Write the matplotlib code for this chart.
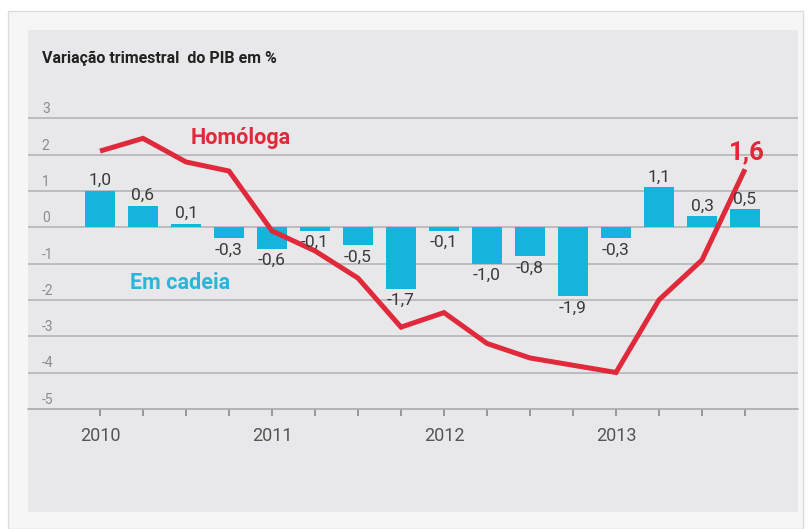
import matplotlib
matplotlib.use("Agg")
import matplotlib.pyplot as plt
from matplotlib.patches import Rectangle

# ---- data ----
quarters = list(range(16))
year_labels = {0: "2010", 4: "2011", 8: "2012", 12: "2013"}
em_cadeia = [1.0, 0.6, 0.1, -0.3, -0.6, -0.1, -0.5, -1.7,
             -0.1, -1.0, -0.8, -1.9, -0.3, 1.1, 0.3, 0.5]
homologa = [2.1, 2.45, 1.8, 1.55, -0.1, -0.65, -1.4, -2.75,
            -2.35, -3.2, -3.6, -3.8, -4.0, -2.0, -0.9, 1.6]
y_ticks = [3, 2, 1, 0, -1, -2, -3, -4, -5]
title = "Variação trimestral  do PIB em %"

# ---- style ----
W, H = 808, 529
CYAN = "#14b4dc"
RED = "#e0293a"
PANEL = "#e8e8ea"
GRID = "#b0b0b2"
FONT = ["Roboto", "DejaVu Sans"]
plt.rcParams["font.family"] = FONT

fig = plt.figure(figsize=(W / 100, H / 100), dpi=100)
fig.patch.set_facecolor("white")
# outer light frame
frame = Rectangle((8 / W, 0), (803 - 8) / W, (H - 11) / H,
                  transform=fig.transFigure, facecolor="#f6f6f7",
                  edgecolor="#dcdcdc", linewidth=1, zorder=-10)
fig.patches.append(frame)

left, right, top, bottom = 28, 798, 30, 512
ax = fig.add_axes([left / W, 1 - bottom / H, (right - left) / W, (bottom - top) / H])
ax.set_zorder(1)
ax.set_facecolor(PANEL)

# scales: x center spacing 43px, first center at 100px; y 36.3 px/unit, zero at 227.3px
xpx = 43.0
ax.set_xlim(-(100 - left) / xpx, (right - 100) / xpx)
ypx = 36.3
ax.set_ylim((227.3 - bottom) / ypx, (227.3 - top) / ypx)

for s in ["top", "right", "left"]:
    ax.spines[s].set_visible(False)
ax.spines["bottom"].set_position(("data", min(y_ticks)))
ax.spines["bottom"].set_color(GRID)
ax.spines["bottom"].set_linewidth(1.1)

for v in y_ticks:
    ax.axhline(v, color=GRID, lw=1.1, zorder=1)
    ax.annotate(f"{v}", xy=(0.018, v), xycoords=("axes fraction", "data"),
                xytext=(0, 1.5), textcoords="offset points",
                ha="left", va="bottom", fontsize=10, color="#8c8c8e")

ax.set_yticks([])
ax.set_xticks(quarters)
ax.set_xticklabels([year_labels.get(q, "") for q in quarters])
ax.tick_params(axis="x", direction="out", length=5, width=1.2, color="#8a8a8a",
               pad=8, labelsize=13, labelcolor="#555555")

# bars
ax.bar(quarters, em_cadeia, width=0.71, color=CYAN, zorder=2)
for q, v in zip(quarters, em_cadeia):
    lab = f"{v:.1f}".replace(".", ",")
    if v >= 0:
        ax.annotate(lab, xy=(q, v), xytext=(0, 2), textcoords="offset points",
                    ha="center", va="bottom", fontsize=12.5, color="#3a3a3a", zorder=4)
    else:
        ax.annotate(lab, xy=(q, v), xytext=(0, -3), textcoords="offset points",
                    ha="center", va="top", fontsize=12.5, color="#3a3a3a", zorder=4)

# line
ax.plot(quarters, homologa, color=RED, lw=3.6, solid_joinstyle="miter",
        solid_capstyle="butt", zorder=3)
ax.annotate(f"{homologa[-1]:.1f}".replace(".", ","), xy=(quarters[-1], homologa[-1]),
            xytext=(1, 12), textcoords="offset points", ha="center", va="center",
            fontsize=18.5, fontweight="bold", color=RED, zorder=5)

ax.text(3.28, 2.47, "Homóloga", ha="center", va="center", fontsize=15.5,
        fontweight="bold", color=RED, zorder=5)
ax.text(1.86, -1.53, "Em cadeia", ha="center", va="center", fontsize=15.5,
        fontweight="bold", color="#2ab5d9", zorder=5)

fig.text(42 / W, 1 - 58 / H, title, ha="left", va="center", fontsize=11.5,
         fontweight="bold", color="#222222", zorder=10)

fig.savefig("out.png", dpi=100, facecolor=fig.get_facecolor())
